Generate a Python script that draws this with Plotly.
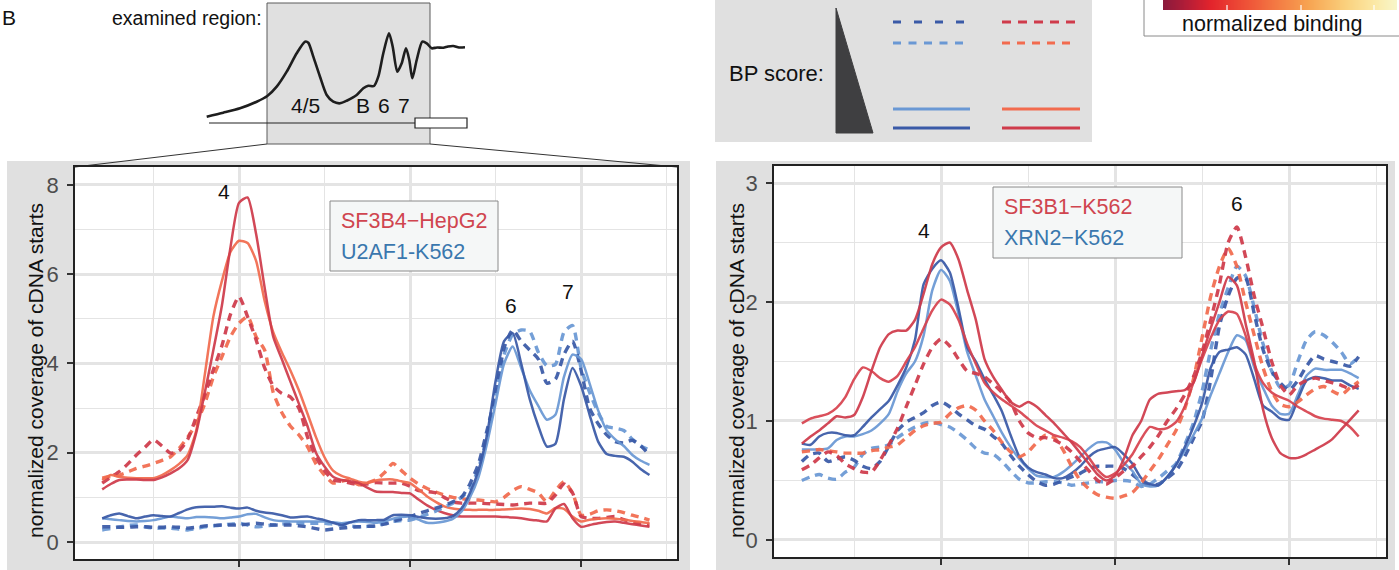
import plotly.graph_objects as go

W, H = 1399, 570
FONT = "Liberation Sans, Arial, Helvetica, sans-serif"

# ---------------- data -----------------
positions = list(range(-80, 245, 5))   # position relative to exon-4 peak (common x grid)

# Left panel: SF3B4-HepG2 (red) / U2AF1-K562 (blue)
sf3b4_solid_dark = [1.18,1.30,1.39,1.40,1.40,1.39,1.39,1.45,1.54,1.65,1.84,2.45,3.35,
                    4.30,5.30,6.60,7.60,7.72,6.90,5.70,4.60,4.10,3.60,3.10,2.60,2.00,
                    1.69,1.46,1.39,1.36,1.32,1.22,1.13,1.12,1.12,1.10,1.09,0.95,0.82,
                    0.72,0.65,0.60,0.57,0.57,0.57,0.57,0.57,0.56,0.55,0.53,0.50,0.48,
                    0.46,0.75,0.85,0.53,0.34,0.38,0.42,0.45,0.46,0.43,0.40,0.37,0.34]
sf3b4_solid_light = [1.39,1.50,1.46,1.44,1.43,1.43,1.43,1.50,1.61,1.75,1.95,2.50,3.75,
                     5.05,5.85,6.50,6.75,6.70,6.30,5.40,4.70,4.25,3.85,3.40,2.88,2.35,
                     1.90,1.60,1.48,1.42,1.35,1.33,1.38,1.40,1.40,1.36,1.32,1.18,1.02,
                     0.90,0.80,0.75,0.73,0.72,0.72,0.72,0.72,0.73,0.74,0.75,0.74,0.70,
                     0.64,0.76,0.74,0.57,0.46,0.50,0.52,0.53,0.52,0.50,0.47,0.45,0.42]
sf3b4_dash_dark = [1.32,1.45,1.58,1.75,1.95,2.12,2.29,2.15,1.99,2.05,2.30,2.80,3.30,
                   3.86,4.40,5.10,5.50,5.05,4.53,3.90,3.50,3.33,3.25,3.00,2.36,1.90,
                   1.60,1.39,1.36,1.32,1.28,1.30,1.33,1.32,1.32,1.32,1.25,1.15,1.13,
                   1.10,1.00,0.90,0.87,0.87,0.87,0.86,0.85,0.84,0.83,0.85,0.87,0.87,
                   0.87,1.05,1.30,1.10,0.57,0.53,0.53,0.55,0.57,0.50,0.45,0.40,0.38]
sf3b4_dash_light = [1.43,1.47,1.50,1.57,1.65,1.70,1.76,1.83,1.91,2.10,2.35,2.65,3.10,
                    3.70,4.15,4.60,4.90,5.05,4.60,4.30,3.35,2.90,2.60,2.40,2.14,1.75,
                    1.50,1.32,1.36,1.39,1.28,1.33,1.39,1.55,1.76,1.60,1.43,1.30,1.20,
                    1.12,1.05,1.00,0.97,0.95,0.94,0.92,0.90,1.00,1.15,1.24,1.18,1.10,
                    0.90,1.15,1.35,1.10,0.60,0.62,0.70,0.72,0.70,0.66,0.60,0.55,0.49]
u2af1_solid_dark = [0.53,0.60,0.64,0.58,0.53,0.57,0.60,0.58,0.57,0.65,0.73,0.78,0.79,
                    0.79,0.80,0.77,0.75,0.77,0.70,0.66,0.64,0.60,0.55,0.56,0.57,0.53,
                    0.49,0.43,0.38,0.44,0.49,0.49,0.49,0.50,0.60,0.61,0.60,0.56,0.53,
                    0.52,0.53,0.58,0.75,1.10,1.60,2.40,3.60,4.50,4.68,4.00,3.20,2.60,
                    2.14,2.20,3.20,3.90,3.50,2.85,2.25,1.97,1.93,1.91,1.80,1.63,1.50]
u2af1_solid_light = [0.53,0.51,0.49,0.47,0.46,0.47,0.49,0.53,0.57,0.55,0.53,0.56,0.56,
                     0.55,0.53,0.55,0.57,0.62,0.63,0.55,0.49,0.47,0.46,0.46,0.46,0.46,
                     0.46,0.44,0.42,0.44,0.46,0.45,0.43,0.47,0.52,0.56,0.57,0.50,0.43,
                     0.43,0.46,0.52,0.68,1.00,1.45,2.20,3.10,4.00,4.38,3.90,3.40,3.05,
                     2.74,2.85,3.70,4.20,4.10,3.55,2.95,2.50,2.30,2.15,1.95,1.82,1.73]
u2af1_dash_dark = [0.34,0.34,0.33,0.33,0.34,0.34,0.33,0.33,0.34,0.33,0.31,0.33,0.36,
                   0.37,0.38,0.38,0.38,0.40,0.42,0.40,0.38,0.38,0.38,0.36,0.34,0.30,
                   0.27,0.29,0.31,0.33,0.34,0.35,0.36,0.40,0.46,0.52,0.57,0.64,0.70,
                   0.76,0.82,0.90,1.00,1.30,1.75,2.50,3.30,4.35,4.75,4.50,4.30,4.10,
                   3.56,3.65,4.20,4.50,3.85,3.00,2.65,2.40,2.25,2.22,2.28,2.15,1.95]
u2af1_dash_light = [0.27,0.30,0.34,0.37,0.38,0.34,0.31,0.31,0.31,0.29,0.27,0.30,0.34,
                    0.36,0.38,0.40,0.42,0.38,0.34,0.36,0.38,0.40,0.42,0.42,0.42,0.42,
                    0.42,0.40,0.38,0.36,0.34,0.35,0.36,0.42,0.46,0.48,0.49,0.55,0.62,
                    0.69,0.78,0.87,1.00,1.20,1.65,2.36,3.38,4.20,4.65,4.75,4.72,4.25,
                    3.95,3.98,4.70,4.85,3.90,3.35,2.90,2.59,2.55,2.50,2.30,2.15,2.06]

# Right panel: SF3B1-K562 (red) / XRN2-K562 (blue)
sf3b1_solid_dark = [0.81,0.87,0.92,0.98,1.04,1.03,1.05,1.20,1.42,1.62,1.73,1.76,1.76,
                    1.85,2.07,2.32,2.46,2.50,2.36,2.10,1.85,1.52,1.37,1.26,1.16,1.12,
                    1.16,1.12,1.05,0.98,0.90,0.82,0.73,0.64,0.55,0.50,0.54,0.68,0.88,
                    1.00,1.18,1.23,1.24,1.25,1.26,1.32,1.55,1.78,2.00,2.21,2.14,1.82,
                    1.50,1.10,0.86,0.73,0.69,0.69,0.72,0.76,0.80,0.85,0.93,1.01,1.09]
sf3b1_solid_light = [0.98,1.02,1.04,1.06,1.11,1.20,1.35,1.45,1.42,1.36,1.33,1.38,1.50,
                     1.62,1.78,1.93,2.02,1.98,1.85,1.65,1.48,1.32,1.24,1.18,1.13,1.08,
                     1.02,0.96,0.92,0.88,0.86,0.83,0.78,0.69,0.59,0.53,0.56,0.63,0.72,
                     0.85,0.95,0.93,0.94,0.99,1.12,1.32,1.52,1.70,1.85,1.92,1.90,1.72,
                     1.48,1.32,1.24,1.20,1.17,1.12,1.08,1.04,1.02,1.01,1.00,0.95,0.87]
sf3b1_dash_dark = [0.59,0.63,0.69,0.74,0.71,0.64,0.60,0.57,0.57,0.67,0.80,0.94,1.12,
                   1.30,1.48,1.62,1.69,1.63,1.52,1.42,1.40,1.37,1.31,1.24,1.16,1.00,
                   0.90,0.86,0.86,0.84,0.80,0.74,0.66,0.58,0.50,0.47,0.52,0.58,0.62,
                   0.70,0.78,0.88,1.00,1.10,1.22,1.37,1.58,1.85,2.15,2.50,2.63,2.38,
                   2.05,1.78,1.50,1.30,1.22,1.30,1.34,1.36,1.34,1.32,1.30,1.27,1.30]
sf3b1_dash_light = [0.74,0.75,0.76,0.75,0.74,0.73,0.73,0.73,0.75,0.76,0.78,0.80,0.86,
                    0.92,0.96,0.98,0.99,1.06,1.11,1.13,1.09,1.00,0.92,0.82,0.74,0.70,
                    0.74,0.82,0.88,0.86,0.76,0.62,0.50,0.43,0.38,0.36,0.35,0.37,0.40,
                    0.48,0.58,0.68,0.80,0.92,1.10,1.35,1.70,2.05,2.30,2.45,2.30,2.00,
                    1.72,1.45,1.25,1.14,1.12,1.16,1.22,1.27,1.29,1.25,1.22,1.28,1.33]
xrn2_solid_dark = [0.81,0.80,0.87,0.90,0.90,0.88,0.88,0.95,1.03,1.10,1.17,1.30,1.45,
                   1.68,2.15,2.28,2.35,2.25,1.95,1.62,1.50,1.35,1.22,1.08,0.88,0.70,
                   0.61,0.57,0.55,0.52,0.52,0.56,0.62,0.70,0.75,0.77,0.78,0.72,0.64,
                   0.52,0.47,0.46,0.53,0.63,0.78,0.95,1.15,1.45,1.58,1.60,1.62,1.56,
                   1.35,1.13,1.08,1.02,1.01,1.18,1.34,1.37,1.36,1.34,1.34,1.30,1.27]
xrn2_solid_light = [0.76,0.76,0.76,0.77,0.84,0.87,0.87,0.89,0.92,0.98,1.06,1.25,1.40,
                    1.50,1.72,2.10,2.27,2.18,1.90,1.58,1.38,1.18,1.04,0.90,0.78,0.68,
                    0.60,0.54,0.53,0.53,0.57,0.63,0.70,0.77,0.82,0.82,0.76,0.65,0.58,
                    0.47,0.45,0.46,0.53,0.63,0.75,0.88,1.02,1.22,1.40,1.58,1.72,1.68,
                    1.45,1.28,1.13,1.06,1.06,1.22,1.38,1.44,1.43,1.43,1.43,1.40,1.36]
xrn2_dash_dark = [0.66,0.72,0.73,0.66,0.68,0.70,0.67,0.62,0.60,0.66,0.79,0.92,0.99,
                  1.03,1.07,1.13,1.16,1.12,1.06,1.01,0.96,0.93,0.87,0.81,0.71,0.62,
                  0.55,0.49,0.46,0.47,0.50,0.53,0.56,0.60,0.62,0.62,0.62,0.60,0.55,
                  0.49,0.46,0.47,0.52,0.58,0.70,0.85,1.00,1.35,1.80,2.05,2.20,2.20,
                  1.90,1.60,1.42,1.32,1.26,1.34,1.46,1.55,1.52,1.50,1.48,1.46,1.54]
xrn2_dash_light = [0.50,0.53,0.55,0.52,0.51,0.57,0.61,0.72,0.77,0.78,0.80,0.86,0.91,
                   0.95,0.98,0.99,0.97,0.95,0.90,0.84,0.77,0.73,0.72,0.66,0.58,0.51,
                   0.48,0.48,0.49,0.49,0.48,0.46,0.47,0.48,0.49,0.49,0.50,0.50,0.49,
                   0.45,0.47,0.52,0.58,0.64,0.80,0.98,1.25,1.60,1.90,2.12,2.30,2.22,
                   1.95,1.65,1.42,1.28,1.30,1.50,1.68,1.75,1.72,1.66,1.58,1.48,1.54]

left_yticks = [0, 2, 4, 6, 8]
right_yticks = [0, 1, 2, 3]
x_ticks = [0, 100, 200]

# schematic of the examined region (pixel-like units of the inset)
schem_pos = [206.7,223.3,240,256.7,267.3,276.7,286.7,296.7,305,308.3,313.3,320,326.7,333.3,340,
             346.7,356.7,363.3,368.3,374,378.3,383.3,389,392.7,397.3,401.7,406,409.3,412.3,
             416.7,422.3,426.7,431.7,437,443.3,448,453.3,459,465]
schem_sig = [116.7,112.7,108.3,101.7,96,86.7,71.7,53.3,41.7,42.7,56.7,76.7,95,101.7,103.3,
             100.7,95,88.3,85.7,86,76.7,53.3,33.3,46.7,71.7,63.3,48.3,60,78.3,
             60,41.7,43.3,48.3,47.5,47.7,46.5,46,47.5,47.3]

# colour scale of the "normalized binding" bar
cbar_stops = [[0.0, '#8c1a3c'], [0.10, '#b51d37'], [0.20, '#e3242c'], [0.35, '#ee5137'],
              [0.50, '#f47f45'], [0.62, '#f7a351'], [0.78, '#fad07c'], [0.90, '#fbe8a4'],
              [1.0, '#f8f6c9']]
cbar_levels = list(range(120))

# ---------------- styling -----------------
DR, OR, LB, DB = '#cf3b4b', '#f26b4e', '#6a98d4', '#3a5aa7'
DR2 = '#d8434f'
GRID = '#e4e4e4'
DASH = '8px,6px'


def fx(p):
    return p / W


def fy(p):
    return 1 - p / H


fig = go.Figure()


def add_line(y, color, dash, xa, ya, width):
    fig.add_trace(go.Scatter(
        x=positions, y=y, mode='lines', xaxis=xa, yaxis=ya, hoverinfo='skip',
        opacity=0.93,
        line=dict(color=color, width=width, dash=dash, shape='spline', smoothing=0.6)))


# left panel
add_line(sf3b4_dash_light, OR, DASH, 'x', 'y', 3.4)
add_line(sf3b4_dash_dark, DR, DASH, 'x', 'y', 3.4)
add_line(sf3b4_solid_light, OR, 'solid', 'x', 'y', 2.5)
add_line(sf3b4_solid_dark, DR, 'solid', 'x', 'y', 2.5)
add_line(u2af1_dash_light, LB, DASH, 'x', 'y', 3.4)
add_line(u2af1_dash_dark, DB, DASH, 'x', 'y', 3.4)
add_line(u2af1_solid_light, LB, 'solid', 'x', 'y', 2.5)
add_line(u2af1_solid_dark, DB, 'solid', 'x', 'y', 2.5)
# right panel
add_line(xrn2_dash_light, LB, DASH, 'x2', 'y2', 3.4)
add_line(xrn2_dash_dark, DB, DASH, 'x2', 'y2', 3.4)
add_line(xrn2_solid_light, LB, 'solid', 'x2', 'y2', 2.5)
add_line(xrn2_solid_dark, DB, 'solid', 'x2', 'y2', 2.5)
add_line(sf3b1_dash_light, OR, DASH, 'x2', 'y2', 3.4)
add_line(sf3b1_dash_dark, DR, DASH, 'x2', 'y2', 3.4)
add_line(sf3b1_solid_light, DR2, 'solid', 'x2', 'y2', 2.5)
add_line(sf3b1_solid_dark, DR, 'solid', 'x2', 'y2', 2.5)

# ---- helper (inset) traces on x3/y3, a pixel-like canvas for the top strip ----
fig.add_trace(go.Scatter(x=schem_pos, y=schem_sig, mode='lines', xaxis='x3', yaxis='y3',
                         hoverinfo='skip',
                         line=dict(color='#1e1e1e', width=2.6, shape='spline', smoothing=0.7)))
# BP score triangle
fig.add_trace(go.Scatter(x=[836, 836, 873, 836], y=[8, 133, 133, 8], mode='lines', fill='toself',
                         fillcolor='#3f3f41', line=dict(color='#3f3f41', width=1),
                         xaxis='x3', yaxis='y3', hoverinfo='skip'))
# BP legend swatches
swatches = [
    (DB, '8px,13px', 893, 966, 22), (LB, '8px,7.5px', 893, 966, 43),
    (LB, 'solid', 893, 970, 109), (DB, 'solid', 893, 970, 128),
    (DR, '9px,7px', 1002, 1075, 22), (OR, '8px,7px', 1002, 1075, 43),
    (OR, 'solid', 1002, 1080, 109), (DR, 'solid', 1002, 1080, 128),
]
for col, dsh, xa0, xa1, yy in swatches:
    fig.add_trace(go.Scatter(x=[xa0, xa1], y=[yy, yy], mode='lines', xaxis='x3', yaxis='y3',
                             hoverinfo='skip', line=dict(color=col, width=3.2, dash=dsh)))
# normalized binding colour bar
n = len(cbar_levels)
cb_x = [1163 + (1397 - 1163) * i / n for i in range(n + 1)]
fig.add_trace(go.Heatmap(z=[cbar_levels], x=cb_x, y=[0, 10], colorscale=cbar_stops,
                         showscale=False, xaxis='x3', yaxis='y3', hoverinfo='skip',
                         zsmooth='best'))
for tx in [1227, 1301, 1374]:
    fig.add_trace(go.Scatter(x=[tx, tx], y=[5, 10], mode='lines', xaxis='x3', yaxis='y3',
                             hoverinfo='skip', line=dict(color='white', width=1.2)))


def main_x(dom, rng):
    return dict(domain=dom, range=rng, tickmode='array', tickvals=x_ticks,
                ticks='outside', ticklen=6, tickwidth=1.8, tickcolor='#333',
                showticklabels=False, showgrid=True, gridcolor=GRID, gridwidth=2.6,
                minor=dict(dtick=50, tick0=0, showgrid=True, gridcolor=GRID, gridwidth=1.4, ticks=''),
                showline=True, linecolor='#222', linewidth=1.6, mirror=True, zeroline=False,
                fixedrange=True)


def main_y(dom, rng, tv, mdt):
    return dict(domain=dom, range=rng, tickmode='array', tickvals=tv,
                ticks='outside', ticklen=6, tickwidth=1.8, tickcolor='#333',
                ticklabelstandoff=4,
                tickfont=dict(family=FONT, size=22, color='#4d4d4d'),
                showgrid=True, gridcolor=GRID, gridwidth=2.6,
                minor=dict(dtick=mdt, tick0=0, showgrid=True, gridcolor=GRID, gridwidth=1.4, ticks=''),
                showline=True, linecolor='#222', linewidth=1.6, mirror=True, zeroline=False,
                fixedrange=True)


shapes = []


def rect(x0, y0, x1, y1, fill, line_color=None, lw=0, layer='below'):
    shapes.append(dict(type='rect', xref='paper', yref='paper', x0=fx(x0), x1=fx(x1),
                       y0=fy(y1), y1=fy(y0), fillcolor=fill, layer=layer,
                       line=dict(color=line_color or fill, width=lw)))


def seg(x0, y0, x1, y1, color='#333', lw=1, layer='below'):
    shapes.append(dict(type='line', xref='paper', yref='paper', x0=fx(x0), x1=fx(x1),
                       y0=fy(y0), y1=fy(y1), layer=layer, line=dict(color=color, width=lw)))


GRAY = '#e0e0e0'
rect(7, 161, 690, 580, GRAY)
rect(716, 161, 1395, 580, GRAY)
rect(75, 167, 677, 559, 'white')
rect(774, 166, 1386, 557, 'white')
rect(267, 3, 430, 144, GRAY, '#5a5a5a', 1)
rect(715, -2, 1092, 142, GRAY)
rect(1144, -3, 1410, 36, 'white', '#8a8a8a', 1)
seg(267, 144, 75, 167, '#333', 1)
seg(430, 144, 677, 167, '#333', 1)
seg(209, 123, 415, 123, '#222', 1.2)
rect(415, 118, 467, 128, 'white', '#222', 1.2)
rect(330, 201, 498, 271, '#f5f7f7', '#8a8a8a', 1, layer='above')
rect(993, 187, 1182, 258, '#f5f7f7', '#8a8a8a', 1, layer='above')

ann = []


def text(t, x, y, size, color='#111', xanchor='center', angle=0):
    ann.append(dict(text=t, x=fx(x), y=fy(y), xref='paper', yref='paper', showarrow=False,
                    xanchor=xanchor, yanchor='middle', textangle=angle,
                    font=dict(family=FONT, size=size, color=color)))


text('B', 0, 18, 21, xanchor='left')
text('examined region:', 264, 18, 19.5, xanchor='right')
text('4/5', 305, 105, 21)
text('B', 363, 105, 21)
text('6', 384, 105, 21)
text('7', 404, 105, 21)
text('BP score:', 727, 74, 22, xanchor='left')
text('normalized binding', 1272, 24, 21.5)
text('normalized coverage of cDNA starts', 35, 371, 21, angle=-90)
text('normalized coverage of cDNA starts', 736, 371, 21, angle=-90)
text('SF3B4\u2212HepG2', 339, 221, 21.5, '#d0454f', 'left')
text('U2AF1-K562', 339, 252, 21.5, '#3a77ae', 'left')
text('SF3B1\u2212K562', 1002, 207, 21.5, '#d0454f', 'left')
text('XRN2\u2212K562', 1002, 238, 21.5, '#3a77ae', 'left')

# peak labels in data coordinates
for t, xv, yv, xr, yr in [('4', -9, 7.85, 'x', 'y'), ('6', 159, 5.3, 'x', 'y'),
                          ('7', 192.5, 5.62, 'x', 'y'), ('4', -10, 2.6, 'x2', 'y2'),
                          ('6', 170, 2.83, 'x2', 'y2')]:
    ann.append(dict(text=t, x=xv, y=yv, xref=xr, yref=yr, showarrow=False,
                    font=dict(family=FONT, size=21, color='#111')))

fig.update_layout(
    width=W, height=H, margin=dict(l=0, r=0, t=0, b=0),
    paper_bgcolor='white', plot_bgcolor='rgba(0,0,0,0)', showlegend=False,
    hovermode=False,
    xaxis=main_x([fx(75), fx(677)], [-95.9, 256.1]),
    yaxis=main_y([fy(559), fy(167)], [-0.381, 8.403], left_yticks, 1),
    xaxis2=main_x([fx(774), fx(1386)], [-96.0, 255.7]),
    yaxis2=main_y([fy(557), fy(166)], [-0.143, 3.143], right_yticks, 0.5),
    xaxis3=dict(domain=[0, 1], range=[0, W], visible=False, fixedrange=True, anchor='y3'),
    yaxis3=dict(domain=[fy(160), 1], range=[160, 0], visible=False, fixedrange=True, anchor='x3'),
    shapes=shapes, annotations=ann,
)
fig.layout.xaxis.anchor = 'y'
fig.layout.xaxis2.anchor = 'y2'
fig.layout.yaxis.anchor = 'x'
fig.layout.yaxis2.anchor = 'x2'

fig.write_html("out.html")
